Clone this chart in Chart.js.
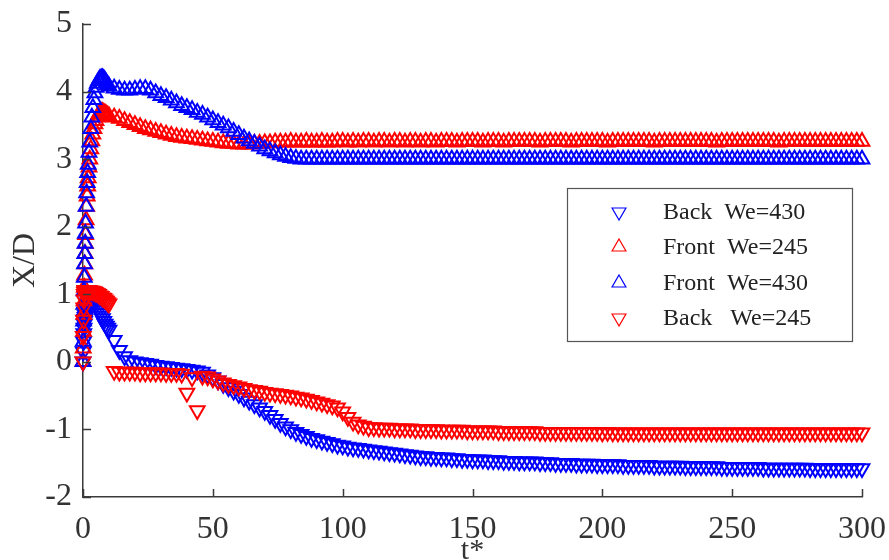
<!DOCTYPE html>
<html>
<head>
<meta charset="utf-8">
<script src="https://cdn.jsdelivr.net/npm/chart.js@4.4.1/dist/chart.umd.min.js"></script>
<style>
  html, body { margin: 0; padding: 0; background: #ffffff; }
  #wrap { width: 889px; height: 560px; }
</style>
</head>
<body>
<div id="wrap"><canvas id="c" width="889" height="560"></canvas></div>
<script>
// ---------------- DATA ----------------
const tValues = [
  0, 0.1, 0.2, 0.3, 0.4, 0.5, 0.6, 0.7, 0.8, 0.9,
  1, 1.2, 1.4, 1.6, 1.8, 2, 2.3, 2.6, 3, 3.4,
  3.8, 4.2, 4.6, 5, 5.5, 6, 6.5, 7, 7.5, 8,
  8.5, 9, 9.5, 10,
  12, 14, 16, 18, 20, 22, 24, 26, 28, 30,
  32, 34, 36, 38, 40, 42, 44, 46, 48, 50,
  52, 54, 56, 58, 60, 62, 64, 66, 68, 70,
  72, 74, 76, 78, 80, 82, 84, 86, 88, 90,
  92, 94, 96, 98, 100, 102, 104, 106, 108, 110,
  112, 114, 116, 118, 120, 122, 124, 126, 128, 130,
  132, 134, 136, 138, 140, 142, 144, 146, 148, 150,
  152, 154, 156, 158, 160, 162, 164, 166, 168, 170,
  172, 174, 176, 178, 180, 182, 184, 186, 188, 190,
  192, 194, 196, 198, 200, 202, 204, 206, 208, 210,
  212, 214, 216, 218, 220, 222, 224, 226, 228, 230,
  232, 234, 236, 238, 240, 242, 244, 246, 248, 250,
  252, 254, 256, 258, 260, 262, 264, 266, 268, 270,
  272, 274, 276, 278, 280, 282, 284, 286, 288, 290,
  292, 294, 296, 298, 300
];

const backWe430 = [
  0, 0.15, 0.3, 0.42, 0.5, 0.56, 0.6, 0.63, 0.66, 0.69,
  0.72, 0.76, 0.8, 0.83, 0.86, 0.88, 0.9, 0.91, 0.92, 0.92,
  0.91, 0.89, 0.87, 0.84, 0.8, 0.76, 0.72, 0.68, 0.64, 0.6,
  0.56, 0.53, 0.5, 0.47,
  0.32, 0.17, 0.08, 0.02, 0.0, -0.01, -0.02, -0.03, -0.05, -0.06,
  -0.07, -0.08, -0.09, -0.1, -0.11, -0.12, -0.13, -0.15, -0.19, -0.23,
  -0.28, -0.33, -0.38, -0.43, -0.48, -0.53, -0.58, -0.63, -0.68, -0.73,
  -0.79, -0.85, -0.91, -0.96, -1.0, -1.04, -1.07, -1.1, -1.13, -1.15,
  -1.17, -1.19, -1.21, -1.23, -1.24, -1.26, -1.27, -1.28, -1.29, -1.3,
  -1.31, -1.32, -1.33, -1.34, -1.35, -1.36, -1.37, -1.38, -1.39, -1.4,
  -1.4, -1.41, -1.41, -1.42, -1.42, -1.43, -1.43, -1.44, -1.44, -1.45,
  -1.45, -1.45, -1.46, -1.46, -1.46, -1.47, -1.47, -1.47, -1.48, -1.48,
  -1.48, -1.48, -1.49, -1.49, -1.49, -1.5, -1.5, -1.5, -1.5, -1.51,
  -1.51, -1.51, -1.51, -1.52, -1.52, -1.52, -1.52, -1.52, -1.53, -1.53,
  -1.53, -1.53, -1.53, -1.53, -1.54, -1.54, -1.54, -1.54, -1.54, -1.54,
  -1.55, -1.55, -1.55, -1.55, -1.55, -1.55, -1.55, -1.56, -1.56, -1.56,
  -1.56, -1.56, -1.56, -1.56, -1.56, -1.57, -1.57, -1.57, -1.57, -1.57,
  -1.57, -1.57, -1.57, -1.57, -1.58, -1.58, -1.58, -1.58, -1.58, -1.58,
  -1.58, -1.58, -1.58, -1.58, -1.58
];

const frontWe245 = [
  0, 0.2, 0.45, 0.7, 0.9, 1.1, 1.28, 1.45, 1.6, 1.75,
  1.88, 2.1, 2.3, 2.45, 2.6, 2.72, 2.88, 3.0, 3.15, 3.27,
  3.37, 3.45, 3.52, 3.57, 3.62, 3.66, 3.68, 3.7, 3.7, 3.69,
  3.68, 3.66, 3.65, 3.64,
  3.62, 3.6, 3.57, 3.54, 3.51, 3.48, 3.45, 3.43, 3.41, 3.39,
  3.37, 3.35, 3.33, 3.32, 3.31, 3.3, 3.29, 3.28, 3.27, 3.26,
  3.25, 3.24, 3.23, 3.23, 3.22, 3.22, 3.22, 3.23, 3.23, 3.24,
  3.24, 3.25, 3.25, 3.25, 3.26, 3.25, 3.25, 3.26, 3.25, 3.25,
  3.26, 3.25, 3.25, 3.26, 3.26, 3.25, 3.26, 3.25, 3.26, 3.26,
  3.25, 3.26, 3.26, 3.25, 3.26, 3.26, 3.25, 3.26, 3.26, 3.25,
  3.26, 3.26, 3.25, 3.26, 3.26, 3.26, 3.25, 3.26, 3.26, 3.26,
  3.26, 3.25, 3.26, 3.26, 3.26, 3.25, 3.26, 3.26, 3.26, 3.26,
  3.26, 3.26, 3.25, 3.26, 3.26, 3.26, 3.26, 3.26, 3.25, 3.26,
  3.26, 3.26, 3.26, 3.26, 3.26, 3.25, 3.26, 3.26, 3.26, 3.26,
  3.26, 3.26, 3.26, 3.26, 3.25, 3.26, 3.26, 3.26, 3.26, 3.26,
  3.26, 3.26, 3.26, 3.26, 3.26, 3.26, 3.25, 3.26, 3.26, 3.26,
  3.26, 3.26, 3.26, 3.26, 3.26, 3.26, 3.26, 3.26, 3.25, 3.26,
  3.26, 3.26, 3.26, 3.26, 3.26, 3.26, 3.26, 3.26, 3.26, 3.26,
  3.26, 3.26, 3.26, 3.26, 3.26
];

const frontWe430 = [
  0, 0.3, 0.6, 0.85, 1.05, 1.25, 1.45, 1.6, 1.75, 1.9,
  2.05, 2.3, 2.5, 2.65, 2.8, 2.92, 3.1, 3.25, 3.45, 3.62,
  3.76, 3.88, 3.98, 4.06, 4.12, 4.16, 4.19, 4.2, 4.2, 4.19,
  4.16, 4.13, 4.1, 4.08,
  4.05, 4.03, 4.02, 4.02, 4.03, 4.04, 4.04, 4.02, 3.98, 3.94,
  3.91, 3.87, 3.83, 3.79, 3.76, 3.73, 3.69, 3.66, 3.62, 3.58,
  3.54, 3.5, 3.46, 3.41, 3.36, 3.31, 3.27, 3.23, 3.19, 3.15,
  3.12, 3.09, 3.06, 3.04, 3.02, 3.01, 3.0, 3.0, 3.0, 3.0,
  3.0, 3.0, 3.0, 3.0, 3.0, 3.0, 3.0, 3.0, 3.0, 3.0,
  3.0, 3.0, 3.0, 3.0, 3.0, 3.0, 3.0, 3.0, 3.0, 3.0,
  3.0, 3.0, 3.0, 3.0, 3.0, 3.0, 3.0, 3.0, 3.0, 3.0,
  3.0, 3.0, 3.0, 3.0, 3.0, 3.0, 3.0, 3.0, 3.0, 3.0,
  3.0, 3.0, 3.0, 3.0, 3.0, 3.0, 3.0, 3.0, 3.0, 3.0,
  3.0, 3.0, 3.0, 3.0, 3.0, 3.0, 3.0, 3.0, 3.0, 3.0,
  3.0, 3.0, 3.0, 3.0, 3.0, 3.0, 3.0, 3.0, 3.0, 3.0,
  3.0, 3.0, 3.0, 3.0, 3.0, 3.0, 3.0, 3.0, 3.0, 3.0,
  3.0, 3.0, 3.0, 3.0, 3.0, 3.0, 3.0, 3.0, 3.0, 3.0,
  3.0, 3.0, 3.0, 3.0, 3.0, 3.0, 3.0, 3.0, 3.0, 3.0,
  3.0, 3.0, 3.0, 3.0, 3.0
];

const backWe245 = [
  0, 0.38, 0.62, 0.8, 0.92, 1.0, 1.03, 1.05, 1.06, 1.06,
  1.06, 1.06, 1.06, 1.06, 1.06, 1.06, 1.06, 1.05, 1.05, 1.05,
  1.04, 1.04, 1.03, 1.02, 1.01, 1.0, 0.98, 0.97, 0.95, 0.94,
  0.92, 0.9, 0.88, 0.86,
  -0.14, -0.15, -0.15, -0.15, -0.15, -0.16, -0.16, -0.16, -0.16, -0.16,
  -0.17, -0.17, -0.17, -0.18, -0.46, -0.23, -0.72, -0.21, -0.22, -0.25,
  -0.28, -0.31, -0.33, -0.35, -0.37, -0.39, -0.41, -0.42, -0.43, -0.45,
  -0.46, -0.47, -0.48, -0.49, -0.5, -0.52, -0.53, -0.55, -0.57, -0.59,
  -0.61, -0.63, -0.65, -0.68, -0.74, -0.82, -0.89, -0.93, -0.95, -0.97,
  -0.97, -0.98, -0.98, -0.98, -0.99, -0.99, -0.99, -0.99, -1.0, -1.0,
  -1.0, -1.0, -1.0, -1.01, -1.01, -1.01, -1.01, -1.01, -1.02, -1.02,
  -1.02, -1.02, -1.02, -1.02, -1.03, -1.03, -1.03, -1.03, -1.03, -1.03,
  -1.03, -1.03, -1.04, -1.04, -1.04, -1.04, -1.04, -1.04, -1.04, -1.04,
  -1.04, -1.04, -1.04, -1.04, -1.05, -1.04, -1.05, -1.05, -1.05, -1.05,
  -1.05, -1.05, -1.05, -1.05, -1.05, -1.05, -1.05, -1.05, -1.05, -1.05,
  -1.05, -1.05, -1.05, -1.05, -1.05, -1.05, -1.05, -1.05, -1.05, -1.05,
  -1.05, -1.05, -1.05, -1.05, -1.05, -1.05, -1.05, -1.05, -1.05, -1.05,
  -1.05, -1.05, -1.05, -1.05, -1.05, -1.05, -1.05, -1.05, -1.05, -1.05,
  -1.05, -1.05, -1.05, -1.05, -1.05
];

const seriesLabels = ['Back  We=430', 'Front  We=245', 'Front  We=430', 'Back   We=245'];
const xTickStep = 50;
const yTickStep = 1;
const xRange = [0, 300];
const yRange = [-2, 5];
const xTitle = 't*';
const yTitle = 'X/D';

// ---------------- STYLE ----------------
const BLUE = '#0000ff';
const RED = '#ff0000';
const AXIS = '#3a3a3a';
const FONT = "'Liberation Serif', 'Times New Roman', serif";

function pts(vals) { return tValues.map((t, i) => ({ x: t, y: vals[i] })); }

const styles = [
  { color: BLUE, rotation: 180, order: 4 },
  { color: RED, rotation: 0, order: 3 },
  { color: BLUE, rotation: 0, order: 2 },
  { color: RED, rotation: 180, order: 1 }
];
const seriesValues = [backWe430, frontWe245, frontWe430, backWe245];

const datasets = seriesValues.map((vals, i) => ({
  label: seriesLabels[i],
  data: pts(vals),
  showLine: false,
  pointStyle: 'triangle',
  rotation: styles[i].rotation,
  pointRadius: 8.5,
  pointHoverRadius: 8.5,
  pointBorderWidth: 2,
  borderColor: styles[i].color,
  backgroundColor: 'rgba(0,0,0,0)',
  pointBackgroundColor: 'rgba(0,0,0,0)',
  pointBorderColor: styles[i].color,
  order: styles[i].order,
  clip: false
}));

// Inward tick marks (MATLAB style)
const inwardTicks = {
  id: 'inwardTicks',
  afterDraw(chart) {
    const { ctx, scales: { x, y }, chartArea } = chart;
    ctx.save();
    ctx.strokeStyle = AXIS;
    ctx.lineWidth = 1.5;
    ctx.beginPath();
    x.ticks.forEach(t => {
      const px = Math.round(x.getPixelForValue(t.value)) + 0.5;
      ctx.moveTo(px, chartArea.bottom);
      ctx.lineTo(px, chartArea.bottom - 8);
    });
    y.ticks.forEach(t => {
      const py = Math.round(y.getPixelForValue(t.value)) + 0.5;
      ctx.moveTo(chartArea.left, py);
      ctx.lineTo(chartArea.left + 8, py);
    });
    ctx.stroke();
    ctx.restore();
  }
};

// Boxed legend inside the plot
const boxedLegend = {
  id: 'boxedLegend',
  afterDraw(chart) {
    const ctx = chart.ctx;
    const box = { x: 567, y: 188, w: 285, h: 153 };
    ctx.save();
    ctx.fillStyle = '#ffffff';
    ctx.fillRect(box.x, box.y, box.w, box.h);
    ctx.strokeStyle = '#555555';
    ctx.lineWidth = 1.2;
    ctx.strokeRect(box.x + 0.5, box.y + 0.5, box.w, box.h);
    const rowY = [212, 247, 283, 318];
    seriesLabels.forEach((lab, i) => {
      const yy = rowY[i];
      ctx.strokeStyle = styles[i].color;
      ctx.fillStyle = 'rgba(0,0,0,0)';
      Chart.helpers.drawPoint(ctx, {
        pointStyle: 'triangle', rotation: styles[i].rotation,
        radius: 8, borderWidth: 2
      }, 619, yy);
      ctx.fillStyle = '#222222';
      ctx.font = "24px " + FONT;
      ctx.textAlign = 'left';
      ctx.textBaseline = 'middle';
      ctx.fillText(lab, 663, yy + 1);
    });
    ctx.restore();
  }
};

new Chart(document.getElementById('c'), {
  type: 'scatter',
  data: { datasets },
  options: {
    responsive: false,
    animation: false,
    devicePixelRatio: 1,
    layout: { padding: { left: 0, right: 27, top: 24, bottom: 0 } },
    plugins: { legend: { display: false }, tooltip: { enabled: false } },
    scales: {
      x: {
        type: 'linear', position: 'bottom',
        min: xRange[0], max: xRange[1],
        grid: { display: false, drawTicks: false, tickLength: 0 },
        border: { display: true, color: AXIS, width: 1.5 },
        ticks: { stepSize: xTickStep, color: '#333', padding: 13, maxRotation: 0, autoSkip: false,
                 font: { family: FONT, size: 32 } },
        title: { display: true, text: xTitle, color: '#333', padding: { top: 0, bottom: 0 },
                 font: { family: FONT, size: 30, lineHeight: 0.6 } },
        afterFit(s) { s.height = 63; s.paddingLeft = 0; s.paddingRight = 0; }
      },
      y: {
        type: 'linear', position: 'left',
        min: yRange[0], max: yRange[1],
        grid: { display: false, drawTicks: false, tickLength: 0 },
        border: { display: true, color: AXIS, width: 1.5 },
        ticks: { stepSize: yTickStep, color: '#333', padding: 11,
                 font: { family: FONT, size: 32 } },
        title: { display: true, text: yTitle, color: '#333', padding: { top: 6, bottom: 0 },
                 font: { family: FONT, size: 32, lineHeight: 1.2 } },
        afterFit(s) { s.width = 83; s.paddingTop = 0; s.paddingBottom = 0; }
      }
    }
  },
  plugins: [inwardTicks, boxedLegend]
});
</script>
</body>
</html>
